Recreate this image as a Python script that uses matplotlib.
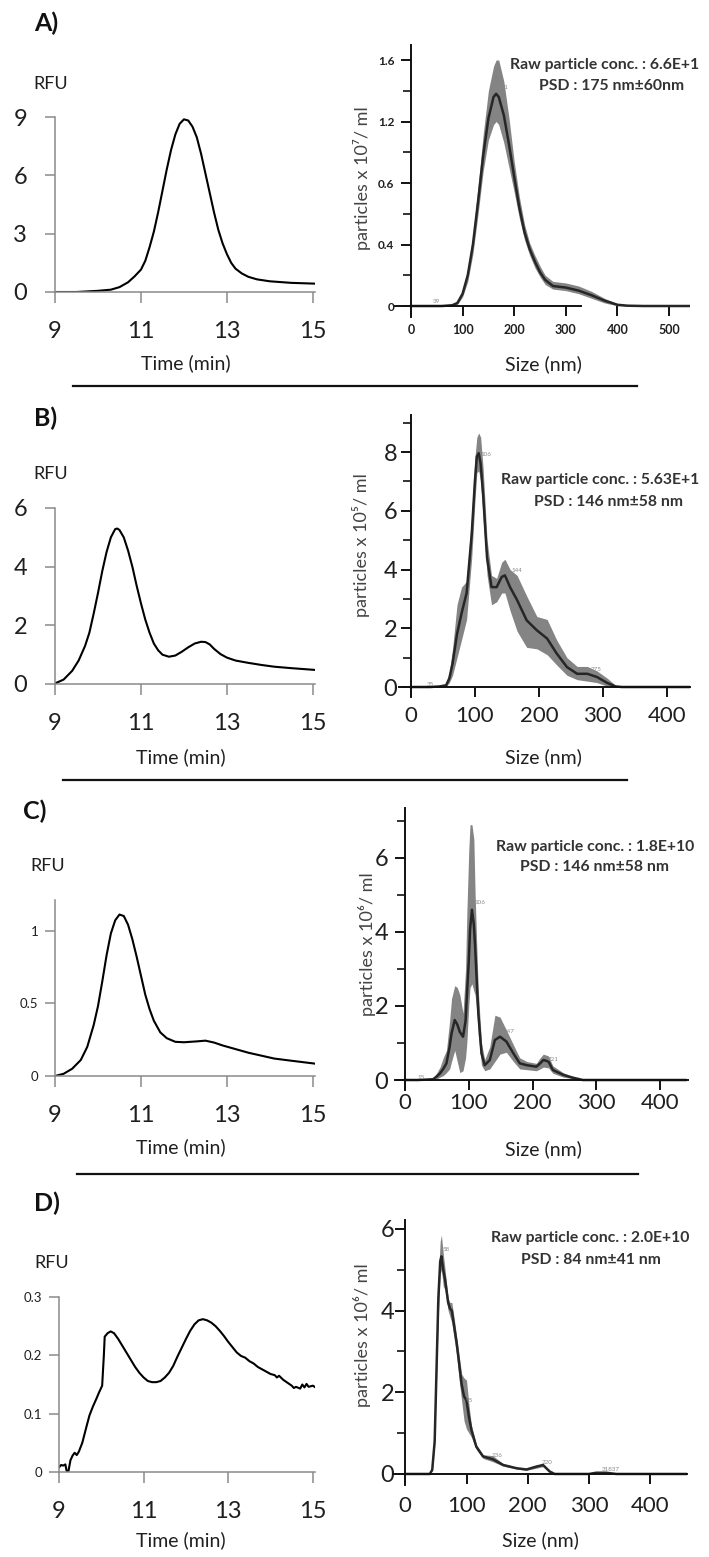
import matplotlib
matplotlib.use('Agg')
import matplotlib.pyplot as plt
from matplotlib.lines import Line2D
from matplotlib.ticker import FixedLocator, FixedFormatter

plt.rcParams['font.family'] = ['Lato', 'DejaVu Sans']

W, H = 709, 1557

# ---- chromatograms (RFU vs time) ----
time_a = [9.0, 9.5, 10.0, 10.3, 10.5, 10.7, 10.85, 11.0, 11.1, 11.2, 11.3, 11.4, 11.5, 11.6, 11.7, 11.8,
          11.9, 12.0, 12.1, 12.2, 12.3, 12.4, 12.5, 12.6, 12.7, 12.8, 12.9, 13.0, 13.1, 13.2, 13.35, 13.5,
          13.7, 14.0, 14.5, 15.05]
rfu_a = [0.0, 0.0, 0.06, 0.12, 0.25, 0.5, 0.8, 1.15, 1.6, 2.3, 3.1, 4.1, 5.2, 6.3, 7.3, 8.1,
         8.65, 8.88, 8.82, 8.5, 7.95, 7.1, 6.1, 5.1, 4.1, 3.2, 2.5, 1.95, 1.5, 1.2, 0.95, 0.78,
         0.65, 0.55, 0.47, 0.43]

time_b = [9.0, 9.2, 9.4, 9.55, 9.7, 9.8, 9.9, 10.0, 10.1, 10.2, 10.3, 10.4, 10.45, 10.5, 10.6, 10.7,
          10.8, 10.9, 11.0, 11.1, 11.2, 11.3, 11.4, 11.5, 11.65, 11.8, 11.95, 12.1, 12.25, 12.4, 12.5,
          12.6, 12.7, 12.85, 13.0, 13.2, 13.5, 13.8, 14.1, 14.5, 15.05]
rfu_b = [0.02, 0.15, 0.45, 0.8, 1.3, 1.75, 2.4, 3.1, 3.85, 4.5, 5.0, 5.28, 5.3, 5.25, 5.0, 4.55,
         4.0, 3.35, 2.75, 2.2, 1.75, 1.38, 1.15, 1.0, 0.93, 0.97, 1.1, 1.25, 1.38, 1.44, 1.43,
         1.35, 1.2, 1.02, 0.9, 0.8, 0.72, 0.65, 0.59, 0.54, 0.48]

time_c = [9.0, 9.2, 9.4, 9.6, 9.75, 9.9, 10.0, 10.1, 10.2, 10.3, 10.4, 10.5, 10.6, 10.7, 10.8, 10.9,
          11.0, 11.1, 11.2, 11.3, 11.45, 11.6, 11.8, 12.0, 12.3, 12.5, 12.7, 12.9, 13.2, 13.5, 13.8,
          14.1, 14.5, 15.05]
rfu_c = [0.0, 0.015, 0.05, 0.11, 0.2, 0.35, 0.48, 0.65, 0.83, 0.98, 1.07, 1.11, 1.1, 1.04, 0.94, 0.82,
         0.69, 0.56, 0.46, 0.38, 0.3, 0.26, 0.235, 0.232, 0.238, 0.243, 0.23, 0.21, 0.185, 0.16, 0.14,
         0.12, 0.105, 0.085]

time_d = [9.0, 9.05, 9.1, 9.15, 9.18, 9.22, 9.27, 9.32, 9.37, 9.42, 9.47, 9.55, 9.65, 9.72, 9.8, 9.88,
          9.95, 10.02, 10.06, 10.08, 10.15, 10.22, 10.3, 10.4, 10.5, 10.6, 10.7, 10.8, 10.9, 11.0, 11.1,
          11.2, 11.3, 11.4, 11.5, 11.6, 11.7, 11.8, 11.9, 12.0, 12.1, 12.2, 12.3, 12.4, 12.5, 12.6, 12.7,
          12.8, 12.9, 13.0, 13.1, 13.2, 13.3, 13.4, 13.5, 13.6, 13.7, 13.8, 13.9, 14.0, 14.1, 14.15, 14.2,
          14.3, 14.4, 14.5, 14.55, 14.6, 14.7, 14.75, 14.8, 14.85, 14.9, 15.0, 15.04]
rfu_d = [0.008, 0.012, 0.011, 0.013, 0.002, 0.0, 0.02, 0.028, 0.033, 0.029, 0.035, 0.05, 0.078, 0.097,
         0.112, 0.125, 0.137, 0.148, 0.2, 0.232, 0.238, 0.241, 0.238, 0.228, 0.216, 0.204, 0.192, 0.18,
         0.17, 0.162, 0.156, 0.154, 0.154, 0.156, 0.162, 0.17, 0.182, 0.198, 0.213, 0.228, 0.242, 0.253,
         0.26, 0.262, 0.26, 0.256, 0.25, 0.242, 0.233, 0.223, 0.214, 0.205, 0.199, 0.196, 0.19, 0.186,
         0.18, 0.176, 0.172, 0.168, 0.166, 0.162, 0.165, 0.158, 0.153, 0.148, 0.144, 0.146, 0.143, 0.15,
         0.145, 0.151, 0.146, 0.148, 0.146]

# ---- NTA size distributions (mean with error band) ----
size_a = [0, 40, 60, 80, 90, 100, 110, 120, 130, 140, 150, 160, 165, 170, 180, 190, 200, 210, 220, 230,
          240, 250, 260, 275, 300, 325, 350, 375, 400, 420, 450, 540]
mean_a = [0, 0, 0, 0.005, 0.02, 0.08, 0.2, 0.4, 0.68, 0.98, 1.22, 1.36, 1.38, 1.36, 1.24, 1.05, 0.84,
          0.64, 0.48, 0.37, 0.29, 0.22, 0.17, 0.13, 0.12, 0.10, 0.07, 0.035, 0.008, 0.002, 0, 0]
upper_a = [0, 0, 0, 0.01, 0.03, 0.1, 0.24, 0.46, 0.78, 1.12, 1.4, 1.56, 1.6, 1.6, 1.46, 1.22, 0.94,
           0.71, 0.53, 0.41, 0.33, 0.26, 0.2, 0.16, 0.15, 0.13, 0.095, 0.05, 0.015, 0.005, 0, 0]
lower_a = [0, 0, 0, 0, 0.01, 0.06, 0.16, 0.34, 0.6, 0.88, 1.08, 1.18, 1.2, 1.18, 1.06, 0.9, 0.74,
           0.57, 0.43, 0.33, 0.25, 0.19, 0.14, 0.11, 0.1, 0.08, 0.05, 0.02, 0.002, 0, 0, 0]

size_b = [0, 30, 45, 55, 60, 65, 72, 79, 87, 95, 100, 103, 106, 109, 113, 119, 126, 134, 142, 147, 155,
          166, 181, 197, 213, 228, 244, 260, 276, 291, 307, 320, 330, 440]
mean_b = [0, 0, 0.02, 0.06, 0.3, 0.8, 1.8, 2.5, 3.2, 5.2, 7.0, 7.85, 7.96, 7.6, 6.5, 4.4, 3.4, 3.4,
          3.75, 3.8, 3.4, 2.96, 2.27, 1.93, 1.65, 1.14, 0.68, 0.45, 0.45, 0.34, 0.14, 0.02, 0, 0]
upper_b = [0, 0, 0.03, 0.1, 0.5, 1.3, 2.8, 3.4, 3.6, 5.9, 7.8, 8.5, 8.65, 8.5, 7.4, 5.0, 3.8, 3.7,
           4.25, 4.35, 4.0, 3.8, 3.1, 2.4, 2.3, 1.6, 1.0, 0.7, 0.7, 0.55, 0.3, 0.06, 0, 0]
lower_b = [0, 0, 0.01, 0.02, 0.15, 0.4, 1.0, 1.6, 2.3, 4.4, 6.3, 7.3, 7.35, 7.0, 5.7, 3.8, 2.8, 2.9,
           3.2, 3.2, 2.6, 1.9, 1.35, 1.3, 1.1, 0.75, 0.4, 0.25, 0.2, 0.15, 0.03, 0, 0, 0]

size_c = [0, 20, 44, 50, 55, 60, 65, 70, 73, 78, 82, 86, 91, 95, 97, 100, 102, 105, 108, 110, 113, 115,
          120, 125, 133, 141, 149, 159, 170, 180, 191, 206, 212, 217, 225, 232, 248, 264, 279, 440]
mean_c = [0, 0, 0.02, 0.1, 0.18, 0.3, 0.45, 0.9, 1.26, 1.62, 1.5, 1.3, 1.17, 1.6, 2.26, 3.2, 4.06, 4.6,
          4.2, 3.6, 2.5, 1.8, 0.72, 0.4, 0.54, 1.08, 1.17, 1.04, 0.72, 0.45, 0.4, 0.36, 0.45, 0.54, 0.5,
          0.27, 0.14, 0.06, 0, 0]
upper_c = [0, 0, 0.03, 0.2, 0.35, 0.6, 0.8, 1.6, 2.2, 2.55, 2.5, 2.3, 1.8, 3.0, 4.5, 6.2, 6.9, 6.9, 6.5,
           5.0, 3.4, 2.4, 1.0, 0.55, 0.9, 1.75, 1.7, 1.35, 0.95, 0.6, 0.5, 0.45, 0.6, 0.7, 0.65, 0.38,
           0.2, 0.08, 0, 0]
lower_c = [0, 0, 0.01, 0.03, 0.08, 0.12, 0.2, 0.3, 0.5, 0.8, 0.5, 0.2, 0.25, 0.6, 1.0, 2.0, 2.5, 2.6,
           2.4, 2.3, 1.8, 1.2, 0.4, 0.25, 0.3, 0.5, 0.7, 0.75, 0.5, 0.3, 0.28, 0.25, 0.3, 0.35, 0.33,
           0.18, 0.08, 0.03, 0, 0]

size_d = [0, 40, 44, 48, 51, 54, 57, 59, 62, 65, 70, 73, 76, 80, 84, 88, 92, 96, 100, 104, 108, 116, 127,
          143, 160, 182, 198, 214, 225, 236, 244, 300, 312, 328, 345, 460]
mean_d = [0, 0, 0.1, 0.8, 2.55, 4.3, 5.2, 5.33, 5.0, 4.76, 4.2, 4.05, 4.0, 3.6, 3.2, 2.7, 2.2, 1.9, 1.8,
          1.4, 1.08, 0.67, 0.43, 0.36, 0.22, 0.14, 0.11, 0.18, 0.22, 0.06, 0, 0, 0.03, 0.03, 0, 0]
upper_d = [0, 0, 0.12, 0.9, 2.8, 4.8, 5.7, 5.85, 5.4, 5.0, 4.3, 4.2, 4.2, 3.8, 3.35, 2.9, 2.45, 2.35, 2.3,
           1.7, 1.2, 0.72, 0.47, 0.45, 0.25, 0.16, 0.13, 0.22, 0.25, 0.08, 0, 0, 0.04, 0.04, 0, 0]
lower_d = [0, 0, 0.08, 0.7, 2.3, 3.9, 4.9, 5.0, 4.6, 4.5, 4.0, 3.85, 3.7, 3.3, 2.9, 2.3, 1.8, 1.3, 1.1,
           1.0, 0.9, 0.6, 0.38, 0.3, 0.19, 0.12, 0.09, 0.14, 0.18, 0.04, 0, 0, 0.02, 0.02, 0, 0]

# peak labels printed by the NTA software
peaks_a = [(39, 50, 0.03), (161, 178, 1.42)]
peaks_b = [(35, 30, 0.1), (106, 118, 7.9), (144, 165, 3.95), (275, 290, 0.6)]
peaks_c = [(15, 25, 0.08), (79, 82, 1.9), (106, 117, 4.8), (147, 163, 1.3), (221, 233, 0.55)]
peaks_d = [(58, 66, 5.5), (95, 104, 1.8), (136, 150, 0.45), (220, 232, 0.28), (31837, 335, 0.12)]

letters = ['A)', 'B)', 'C)', 'D)']
conc_text = ['Raw particle conc. : 6.6E+1', 'Raw particle conc. : 5.63E+1',
             'Raw particle conc. : 1.8E+10', 'Raw particle conc. : 2.0E+10']
psd_text = ['PSD : 175 nm\u00b160nm', 'PSD : 146 nm\u00b158 nm', 'PSD : 146 nm\u00b158 nm',
            'PSD : 84 nm\u00b141 nm']
ylabels_r = ['particles x 10\u2077/ ml', 'particles x 10\u2075/ ml',
             'particles x 10\u2076/ ml', 'particles x 10\u2076/ ml']

TXT = '#1f1f1f'


def rect(x0, y0, x1, y1):
    return [x0 / W, 1 - y1 / H, (x1 - x0) / W, (y1 - y0) / H]


def ftext(x, y, s, **kw):
    fig.text(x / W, 1 - y / H, s, **kw)


fig = plt.figure(figsize=(W / 100, H / 100), dpi=100)


def chrom(box, t, r, ylim, yticks, ylab, ysize, ypad):
    ax = fig.add_axes(rect(*box))
    ax.plot(t, r, color='black', lw=1.5)
    ax.set_xlim(9, 15.05)
    ax.set_ylim(*ylim)
    ax.set_xticks([9, 11, 13, 15])
    ax.set_xticklabels(['9', '11', '13', '15'])
    ax.set_yticks(yticks)
    ax.set_yticklabels(ylab)
    for s in ['top', 'right']:
        ax.spines[s].set_visible(False)
    for s in ['left', 'bottom']:
        ax.spines[s].set_color('#8a8a8a')
        ax.spines[s].set_linewidth(1.1)
    ax.tick_params(axis='x', direction='out', length=8, width=1.1, color='#8a8a8a',
                   labelsize=17, labelcolor=TXT, pad=13)
    ax.tick_params(axis='y', direction='out', length=7, width=1.1, color='#8a8a8a',
                   labelsize=ysize, labelcolor=TXT, pad=ypad)
    return ax


def nta(box, xlim, ylim, s, m, lo, hi, xticks, ymaj, ymin, ylab, lsize, xpad, ypad, peaks, xbound=None):
    ax = fig.add_axes(rect(*box))
    ax.fill_between(s, lo, hi, color='#6e6e6e', alpha=0.85, lw=0)
    ax.plot(s, m, color='#262626', lw=1.8)
    for lab, px, py in peaks:
        ax.text(px, py, str(lab), fontsize=4.5, color='#8a8a8a', ha='center', va='center')
    ax.set_xlim(*xlim)
    ax.set_ylim(*ylim)
    for sp in ['top', 'right']:
        ax.spines[sp].set_visible(False)
    ax.spines['bottom'].set_position(('data', 0))
    ax.spines['left'].set_position(('data', 0))
    if xbound is not None:
        ax.spines['bottom'].set_bounds(*xbound)
    for sp in ['left', 'bottom']:
        ax.spines[sp].set_linewidth(1.4)
        ax.spines[sp].set_color('#111111')
    ax.xaxis.set_major_locator(FixedLocator(xticks))
    ax.xaxis.set_major_formatter(FixedFormatter([str(v) for v in xticks]))
    ax.yaxis.set_major_locator(FixedLocator(ymaj))
    ax.yaxis.set_major_formatter(FixedFormatter(ylab))
    ax.yaxis.set_minor_locator(FixedLocator(ymin))
    ax.tick_params(axis='x', direction='out', length=7, width=1.4, color='#111111',
                   labelsize=lsize[0], labelcolor=TXT, pad=xpad)
    ax.tick_params(axis='y', which='major', direction='out', length=7, width=1.4, color='#111111',
                   labelsize=lsize[1], labelcolor=TXT, pad=ypad)
    ax.tick_params(axis='y', which='minor', direction='out', length=6, width=1.2, color='#111111')
    if lsize[0] < 12:
        for t in ax.get_xticklabels() + ax.get_yticklabels():
            t.set_fontweight('bold')
    return ax


# left column
chrom((55, 117, 315, 292), time_a, rfu_a, (0, 9), [0, 3, 6, 9], ['0', '3', '6', '9'], 17, 13)
chrom((55, 508, 315, 684), time_b, rfu_b, (0, 6), [0, 2, 4, 6], ['0', '2', '4', '6'], 17, 13)
chrom((55, 900, 315, 1076), time_c, rfu_c, (0, 1.21), [0, 0.5, 1], ['0', '0.5', '1'], 9.5, 5)
chrom((59, 1297, 315, 1472), time_d, rfu_d, (0, 0.3), [0, 0.1, 0.2, 0.3],
      ['0', '0.1', '0.2', '0.3'], 9.5, 5)

# right column
nta((395, 45, 690, 317), (-31, 540.7), (-0.0715, 1.6976), size_a, mean_a, lower_a, upper_a,
    [0, 100, 200, 300, 400, 500], [0, 0.4, 0.8, 1.2, 1.6], [0.2, 0.6, 1.0, 1.4],
    ['0', '0.4', '0.6', '1.2', '1.6'], (9, 8.5), 6, 5, peaks_a, xbound=(-31, 330))
nta((399, 415, 690, 697), (-18.8, 436.6), (-0.34, 9.26), size_b, mean_b, lower_b, upper_b,
    [0, 100, 200, 300, 400], [0, 2, 4, 6, 8], [1, 3, 5, 7, 9],
    ['0', '2', '4', '6', '8'], (16, 17), 7, 3, peaks_b)
nta((395, 808, 688, 1090), (-15.7, 443.9), (-0.27, 7.35), size_c, mean_c, lower_c, upper_c,
    [0, 100, 200, 300, 400], [0, 2, 4, 6], [1, 3, 5, 7],
    ['0', '2', '4', '6'], (16, 17), 2, 5, peaks_c)
nta((393, 1220, 687, 1485), (-20.1, 460.3), (-0.27, 6.22), size_d, mean_d, lower_d, upper_d,
    [0, 100, 200, 300, 400], [0, 2, 4, 6], [1, 3, 5],
    ['0', '2', '4', '6'], (16, 17), 9, 1, peaks_d)

# panel letters, RFU labels, axis titles
letter_pos = [(46, 23), (46, 418), (35, 811), (47, 1203)]
rfu_pos = [(51, 84), (51, 474), (48, 866), (52, 1263)]
time_pos = [(186, 363), (181, 757), (181, 1147), (181, 1540)]
size_pos = [(543, 364), (543, 757), (543, 1149), (540, 1540)]
ylab_pos = [(362, 178), (361, 545), (367, 944), (362, 1335)]
conc_pos = [(510, 65, 'left'), (501, 480, 'left'), (595, 847, 'center'), (590, 1238, 'center')]
psd_pos = [(612, 86), (609, 502), (595, 867), (591, 1260)]

for i in range(4):
    ftext(*letter_pos[i], letters[i], fontsize=18, fontweight='bold', color='#111111',
          ha='center', va='center')
    ftext(*rfu_pos[i], 'RFU', fontsize=13, color=TXT, ha='center', va='center')
    ftext(*time_pos[i], 'Time (min)', fontsize=14, color=TXT, ha='center', va='center')
    ftext(*size_pos[i], 'Size (nm)', fontsize=14, color=TXT, ha='center', va='center')
    ftext(*ylab_pos[i], ylabels_r[i], fontsize=13, color='#444444', rotation=90,
          ha='center', va='center', family=['Lato', 'DejaVu Sans'])
    cx, cy, cha = conc_pos[i]
    ftext(cx, cy, conc_text[i], fontsize=11.3, fontweight='bold', color='#333333', ha=cha, va='center')
    ftext(*psd_pos[i], psd_text[i], fontsize=11.3, fontweight='bold', color='#333333',
          ha='center', va='center')

# separators between the panels
for x0, x1, y in [(73, 637, 386), (63, 627, 780), (77, 638, 1174)]:
    fig.add_artist(Line2D([x0 / W, x1 / W], [1 - y / H, 1 - y / H], color='#111111', lw=1.6))

fig.savefig('out.png', dpi=100, facecolor='white')
